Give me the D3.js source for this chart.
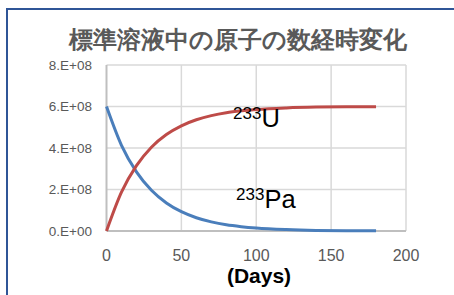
<!DOCTYPE html>
<html>
<head>
<meta charset="utf-8">
<script src="https://cdn.jsdelivr.net/npm/d3@7"></script>
<style>
  body { margin: 0; background: #fff; }
  svg { display: block; }
  text { font-family: "Liberation Sans", Arial, sans-serif; }
</style>
</head>
<body>
<svg id="chart" width="454" height="295"></svg>
<script>
// values
const days = [0, 10, 20, 30, 40, 50, 60, 70, 80, 90, 100, 120, 140, 160, 180];
const pa233 = [6.0e8, 4.13e8, 2.85e8, 1.96e8, 1.35e8, 0.93e8, 0.64e8, 0.44e8, 0.30e8, 0.21e8, 0.145e8, 0.07e8, 0.03e8, 0.016e8, 0.007e8];
const u233 = [0, 1.87e8, 3.15e8, 4.04e8, 4.65e8, 5.07e8, 5.36e8, 5.56e8, 5.70e8, 5.79e8, 5.855e8, 5.93e8, 5.97e8, 5.984e8, 5.993e8];
const xTicks = [0, 50, 100, 150, 200];
const yTicks = [0, 2e8, 4e8, 6e8, 8e8];
const yTickLabels = ["0.E+00", "2.E+08", "4.E+08", "6.E+08", "8.E+08"];
const labels = [
  { mass: "233", sym: "U", day: 84.5, value: 5.0e8 },
  { mass: "233", sym: "Pa", day: 86.5, value: 1.11e8 },
];
const title = "標準溶液中の原子の数経時変化";

const svg = d3.select("#chart");

// outer frame (cut off at right and bottom)
svg.append("rect")
  .attr("x", 7).attr("y", 9)
  .attr("width", 480).attr("height", 300)
  .attr("fill", "none")
  .attr("stroke", "#2f5597")
  .attr("stroke-width", 2);

const x = d3.scaleLinear().domain([0, 200]).range([106.5, 406]);
const y = d3.scaleLinear().domain([0, 8e8]).range([231, 65]);

// gridlines
svg.append("g")
  .selectAll("line.h")
  .data(yTicks.slice(1))
  .join("line")
  .attr("x1", x(0)).attr("x2", x(200))
  .attr("y1", (d) => y(d)).attr("y2", (d) => y(d))
  .attr("stroke", "#d9d9d9").attr("stroke-width", 1.5);

svg.append("g")
  .selectAll("line.v")
  .data(xTicks.slice(1))
  .join("line")
  .attr("x1", (d) => x(d)).attr("x2", (d) => x(d))
  .attr("y1", y(0)).attr("y2", y(8e8))
  .attr("stroke", "#d9d9d9").attr("stroke-width", 1.5);

// axes lines
const axisColor = "#bfbfbf";
svg.append("line")
  .attr("x1", x(0)).attr("x2", x(0))
  .attr("y1", y(0)).attr("y2", y(8e8))
  .attr("stroke", axisColor).attr("stroke-width", 2);
svg.append("line")
  .attr("x1", x(0)).attr("x2", x(200))
  .attr("y1", y(0)).attr("y2", y(0))
  .attr("stroke", axisColor).attr("stroke-width", 2);

// tick labels
svg.append("g")
  .selectAll("text")
  .data(yTicks)
  .join("text")
  .attr("x", 92)
  .attr("y", (d) => y(d))
  .attr("dy", "0.35em")
  .attr("text-anchor", "end")
  .attr("font-size", 13.5)
  .attr("fill", "#595959")
  .text((d, i) => yTickLabels[i]);

svg.append("g")
  .selectAll("text")
  .data(xTicks)
  .join("text")
  .attr("x", (d) => x(d))
  .attr("y", 261)
  .attr("text-anchor", "middle")
  .attr("font-size", 16)
  .attr("fill", "#595959")
  .text((d) => d);

// curves
const line = d3.line()
  .x((d) => x(d[0]))
  .y((d) => y(d[1]))
  .curve(d3.curveMonotoneX);

svg.append("path")
  .datum(days.map((d, i) => [d, pa233[i]]))
  .attr("fill", "none")
  .attr("stroke", "#4a7ebb")
  .attr("stroke-width", 3)
  .attr("d", line);

svg.append("path")
  .datum(days.map((d, i) => [d, u233[i]]))
  .attr("fill", "none")
  .attr("stroke", "#be4b48")
  .attr("stroke-width", 3)
  .attr("d", line);

// isotope labels
const lab = svg.append("g")
  .selectAll("text")
  .data(labels)
  .join("text")
  .attr("x", (d) => x(d.day))
  .attr("y", (d) => y(d.value))
  .attr("fill", "#000");
lab.append("tspan")
  .attr("font-size", 17)
  .attr("dy", -8)
  .text((d) => d.mass);
lab.append("tspan")
  .attr("font-size", 25.5)
  .attr("dy", 8)
  .text((d) => d.sym);

// title
svg.append("text")
  .attr("x", 237.5)
  .attr("y", 48)
  .attr("text-anchor", "middle")
  .attr("font-family", "'Noto Sans CJK JP', sans-serif")
  .attr("font-weight", "bold")
  .attr("font-size", 24)
  .attr("fill", "#595959")
  .text(title);

// x axis title
svg.append("text")
  .attr("x", 259)
  .attr("y", 283)
  .attr("text-anchor", "middle")
  .attr("font-weight", "bold")
  .attr("font-size", 21)
  .attr("fill", "#000")
  .text("(Days)");
</script>
</body>
</html>
